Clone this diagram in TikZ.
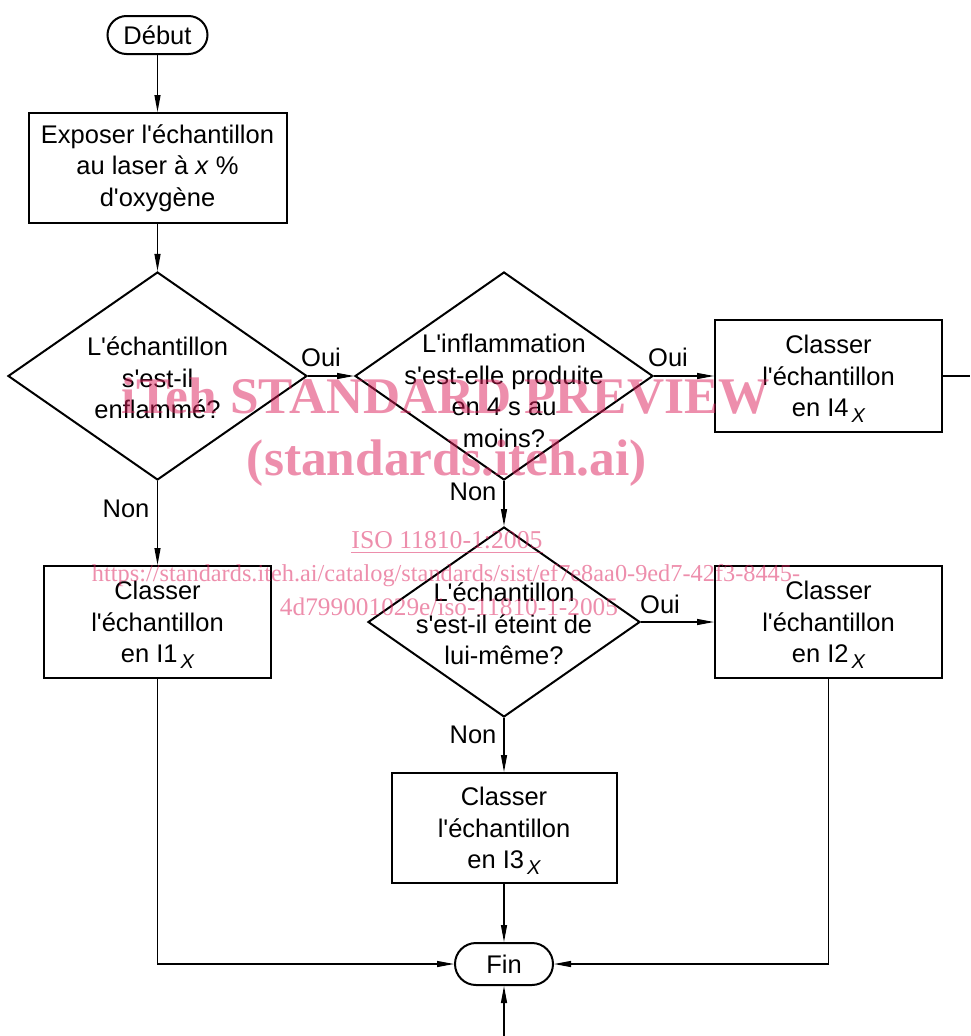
\documentclass[tikz,border=0pt]{standalone}
\usepackage{fontspec}
\usepackage{graphicx}
\setmainfont{Liberation Sans}
\newfontfamily\wmfont{Liberation Serif}
\usetikzlibrary{shapes.geometric,arrows.meta}
\definecolor{wmpink}{RGB}{220,30,90}
\newcommand\ap{\textquotesingle}
\newcommand\subX{\hspace{3pt}\raisebox{-6pt}[0pt][0pt]{\fontsize{20}{20}\selectfont\itshape X}}
\tikzset{
  txt/.style={font=\fontsize{25.5}{31.5}\selectfont, align=center, inner sep=0pt},
  proc/.style={txt, draw, line width=2pt, rectangle},
  term/.style={txt, draw, line width=2pt, rectangle},
  decision/.style={draw, line width=2pt, diamond, inner sep=0pt},
  conn/.style={line width=1.2pt, -{Triangle[length=17pt,width=6pt]}},
  plain/.style={line width=1.2pt},
  lbl/.style={txt},
  wm/.style={inner sep=0pt, text=wmpink, text opacity=0.5, font=\wmfont}
}
\begin{document}
\begin{tikzpicture}[x=1pt,y=-1pt]
\useasboundingbox (0,0) rectangle (970,1036);
% nodes
\node[term, minimum width=100pt, minimum height=38pt, rounded corners=19pt] (start) at (157.5,35) {Début};
\node[proc, minimum width=258pt, minimum height=110pt] (expose) at (157.5,168) {Exposer l\ap{}échantillon\\au laser à \textit{x} \%\\d\ap{}oxygène};
\node[decision, minimum width=299pt, minimum height=208pt] (d1) at (157.5,376) {};
\node[txt] (t1) at (157.5,378) {L\ap{}échantillon\\s\ap{}est-il\\enflammé?};
\node[decision, minimum width=298pt, minimum height=208pt] (d2) at (504,376) {};
\node[txt] (t2) at (504,391) {L\ap{}inflammation\\s\ap{}est-elle produite\\en 4 s au\\moins?};
\node[proc, minimum width=227pt, minimum height=112pt] (c4) at (828.5,376) {Classer\\l\ap{}échantillon\\en I4\subX};
\node[proc, minimum width=227pt, minimum height=112pt] (c1) at (157.5,622) {Classer\\l\ap{}échantillon\\en I1\subX};
\node[decision, minimum width=272pt, minimum height=190pt] (d3) at (504,622) {};
\node[txt] (t3) at (504,624) {L\ap{}échantillon\\s\ap{}est-il éteint de\\lui-même?};
\node[proc, minimum width=227pt, minimum height=112pt] (c2) at (828.5,622) {Classer\\l\ap{}échantillon\\en I2\subX};
\node[proc, minimum width=225pt, minimum height=110pt] (c3) at (504,828) {Classer\\l\ap{}échantillon\\en I3\subX};
\node[term, minimum width=98pt, minimum height=42pt, rounded corners=21pt] (fin) at (504,964) {Fin};
\coordinate (out4) at (970,376);
\coordinate (in5) at (504,1036);
% connectors
\draw[conn] (start) -- (expose);
\draw[conn] (expose) -- (d1);
\draw[conn] (d1.east) -- (d2.west);
\draw[conn] (d2.east) -- (c4.west);
\draw[plain] (c4.east) -- (out4);
\draw[conn] (d1.south) -- (c1.north);
\draw[conn] (d2.south) -- (d3.north);
\draw[conn] (d3.east) -- (c2.west);
\draw[conn] (d3.south) -- (c3.north);
\draw[conn] (c3.south) -- (fin.north);
\draw[conn] (c1.south) |- (fin.west);
\draw[conn] (c2.south) |- (fin.east);
\draw[conn] (in5) -- (fin.south);
% labels
\node[lbl] (oui1) at (321,357) {Oui};
\node[lbl] (oui2) at (668,357) {Oui};
\node[lbl] (oui3) at (660,604) {Oui};
\node[lbl] (non1) at (126,509) {Non};
\node[lbl] (non2) at (473,492) {Non};
\node[lbl] (non3) at (473,735) {Non};
% watermark
\node[wm] (wm1) at (446,396) {\resizebox{648pt}{!}{\bfseries iTeh STANDARD PREVIEW}};
\node[wm] (wm2) at (447,463) {\resizebox{400pt}{!}{\bfseries (standards.iteh.ai)}};
\node[wm] (wm3) at (447,543) {\resizebox{191pt}{!}{\underline{ISO 11810-1:2005}}};
\node[wm] (wm4) at (446,576) {\resizebox{708pt}{!}{https://standards.iteh.ai/catalog/standards/sist/ef7e8aa0-9ed7-42f3-8445-}};
\node[wm] (wm5) at (449,607) {\resizebox{338pt}{!}{4d799001029e/iso-11810-1-2005}};
\end{tikzpicture}
\end{document}
